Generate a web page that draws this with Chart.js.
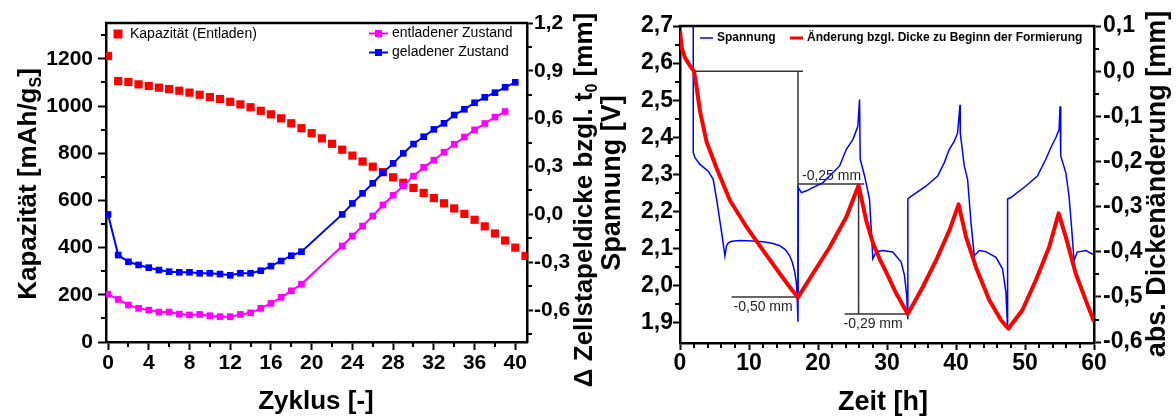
<!DOCTYPE html>
<html>
<head>
<meta charset="utf-8">
<script src="https://cdn.jsdelivr.net/npm/chart.js@4.4.1/dist/chart.umd.min.js"></script>
<style>
  html, body { margin: 0; padding: 0; background: #fff; }
  #wrap { position: relative; width: 1176px; height: 416px; overflow: hidden; }
  .panel { position: absolute; top: 0; height: 416px; }
  #left  { left: 0;     width: 604px; }
  #right { left: 596px; width: 580px; }
</style>
</head>
<body>
<div id="wrap">
  <div class="panel" id="left"><canvas id="cycChart" width="604" height="416"></canvas></div>
  <div class="panel" id="right"><canvas id="formChart" width="580" height="416"></canvas></div>
</div>
<script>
// ---------------------------------------------------------------------------
// Daten links: Zyklisierung
// ---------------------------------------------------------------------------
const capCycles = [0, 1, 2, 3, 4, 5, 6, 7, 8, 9, 10, 11, 12, 13, 14, 15, 16, 17, 18, 19, 20,
                   21, 22, 23, 24, 25, 26, 27, 28, 29, 30, 31, 32, 33, 34, 35, 36, 37, 38, 39, 40, 41];
const capValues = [1212, 1106, 1102, 1092, 1085, 1078, 1072, 1065, 1057, 1048, 1038, 1030, 1018, 1007,
                   995, 980, 965, 948, 927, 906, 885, 863, 840, 815, 790, 765, 743, 720, 698, 675, 653,
                   632, 610, 588, 566, 543, 518, 490, 460, 430, 400, 365];

const dischCycles = [0, 1, 2, 3, 4, 5, 6, 7, 8, 9, 10, 11, 12, 13, 14, 15, 16, 17, 18, 19,
                     23, 24, 25, 26, 27, 28, 29, 30, 31, 32, 33, 34, 35, 36, 37, 38, 39];
const dischThick = [-0.50, -0.533, -0.568, -0.589, -0.60, -0.612, -0.612, -0.625, -0.63, -0.627,
                    -0.635, -0.641, -0.641, -0.627, -0.617, -0.589, -0.558, -0.52, -0.479, -0.437,
                    -0.198, -0.135, -0.073, -0.01, 0.059, 0.12, 0.18, 0.24, 0.295, 0.34, 0.39,
                    0.44, 0.485, 0.53, 0.57, 0.61, 0.645];

const chargeCycles = [0, 1, 2, 3, 4, 5, 6, 7, 8, 9, 10, 11, 12, 13, 14, 15, 16, 17, 18, 19,
                      23, 24, 25, 26, 27, 28, 29, 30, 31, 32, 33, 34, 35, 36, 37, 38, 39, 40];
const chargeThick = [0.0, -0.255, -0.297, -0.317, -0.334, -0.349, -0.359, -0.363, -0.363, -0.369,
                     -0.369, -0.374, -0.382, -0.369, -0.369, -0.353, -0.324, -0.292, -0.259, -0.234,
                     0.0, 0.069, 0.132, 0.195, 0.261, 0.32, 0.383, 0.441, 0.487, 0.533, 0.571,
                     0.623, 0.659, 0.70, 0.734, 0.763, 0.797, 0.828];

const cycTicks   = [0, 4, 8, 12, 16, 20, 24, 28, 32, 36, 40];
const cycMinor   = [2, 6, 10, 14, 18, 22, 26, 30, 34, 38];
const capTicks   = [0, 200, 400, 600, 800, 1000, 1200];
const capMinor   = [100, 300, 500, 700, 900, 1100, 1300];
const stackTicks = [-0.6, -0.3, 0, 0.3, 0.6, 0.9, 1.2];
const stackMinor = [-0.75, -0.45, -0.15, 0.15, 0.45, 0.75, 1.05];

// ---------------------------------------------------------------------------
// Daten rechts: Formierung
// ---------------------------------------------------------------------------
const voltTime = [1.92, 1.92, 2.17, 2.89, 4.09, 4.81, 5.31, 6.03, 6.51, 6.75, 7.0, 7.5, 8.67, 10.5,
                  12.04, 13.5, 14.46, 15.3, 15.9, 16.3, 16.63, 16.85, 16.96, 17.1,
                  17.13, 17.59, 18.32, 20.72, 23.13, 24.1, 25.05, 25.78, 26.02,
                  26.12, 26.75, 27.47, 27.95, 28.44, 29.39, 30.84, 32.05, 32.53, 32.86, 33.01,
                  33.02, 33.5, 35.67, 37.34, 38.31, 39.03, 39.76, 40.23, 40.58,
                  40.62, 41.2, 41.68, 42.17, 42.65, 43.37, 44.34, 45.79, 46.74, 47.23, 47.46,
                  47.48, 47.95, 50.12, 51.8, 53.01, 53.74, 54.46, 54.94, 55.08,
                  55.18, 55.91, 56.38, 56.77, 57.11, 57.58, 58.8, 59.75, 60.0];
const voltValues = [2.75, 2.359, 2.345, 2.327, 2.309, 2.287, 2.233, 2.144, 2.081, 2.108, 2.116, 2.12, 2.122, 2.121,
                    2.119, 2.114, 2.108, 2.097, 2.081, 2.062, 2.037, 2.01, 1.983, 1.903,
                    2.265, 2.251, 2.256, 2.278, 2.323, 2.368, 2.394, 2.43, 2.502,
                    2.341, 2.296, 2.233, 2.073, 2.092, 2.095, 2.091, 2.064, 2.028, 1.974, 1.912,
                    2.234, 2.241, 2.269, 2.296, 2.332, 2.368, 2.39, 2.412, 2.488,
                    2.412, 2.323, 2.287, 2.171, 2.081, 2.095, 2.092, 2.077, 2.046, 1.983, 1.894,
                    2.234, 2.238, 2.269, 2.296, 2.341, 2.372, 2.399, 2.421, 2.484,
                    2.35, 2.305, 2.242, 2.153, 2.068, 2.091, 2.095, 2.086, 2.085];

const dickeTime = [0, 0.24, 0.72, 1.45, 2.02, 2.41, 2.89, 3.86, 5.31, 7.23, 9.64, 12.04, 14.46, 15.9, 17.1,
                   19.27, 21.69, 24.1, 25.88,
                   26.99, 27.95, 28.91, 29.88, 31.33, 33.01,
                   35.18, 37.11, 39.03, 40.38,
                   41.45, 42.89, 44.82, 46.51, 47.61,
                   49.63, 51.57, 53.49, 54.88,
                   55.91, 57.35, 58.8, 60.0];
const dickeValues = [0.089, 0.052, 0.03, 0.012, 0.0, -0.036, -0.088, -0.157, -0.215, -0.286, -0.345, -0.397, -0.448, -0.478, -0.501,
                     -0.448, -0.39, -0.323, -0.253,
                     -0.331, -0.38, -0.415, -0.445, -0.492, -0.538,
                     -0.478, -0.419, -0.353, -0.295,
                     -0.367, -0.434, -0.507, -0.551, -0.57,
                     -0.529, -0.463, -0.39, -0.315,
                     -0.367, -0.448, -0.507, -0.555];

// Hilfslinien [[t, mm], [t, mm]] und ihre Beschriftungen
const annoSegments = [
  [[1.92, 0.0],    [17.83, 0.0]],
  [[17.1, 0.0],    [17.1, -0.50]],
  [[7.47, -0.50],  [17.1, -0.50]],
  [[17.1, -0.25],  [26.7, -0.25]],
  [[25.88, -0.25], [25.88, -0.538]],
  [[23.85, -0.538], [33.0, -0.538]],
];
const annoTexts  = ["-0,50 mm", "-0,25 mm", "-0,29 mm"];
const annoAnchor = [[7.47, -0.50], [17.1, -0.25], [23.85, -0.538]];

const timeTicks  = [0, 10, 20, 30, 40, 50, 60];
const timeMinor  = [2, 4, 6, 8, 12, 14, 16, 18, 22, 24, 26, 28, 32, 34, 36, 38, 42, 44, 46, 48, 52, 54, 56, 58];
const voltTicks  = [1.9, 2.0, 2.1, 2.2, 2.3, 2.4, 2.5, 2.6, 2.7];
const voltMinor  = [1.95, 2.05, 2.15, 2.25, 2.35, 2.45, 2.55, 2.65];
const dickeTicks = [-0.6, -0.5, -0.4, -0.3, -0.2, -0.1, 0.0, 0.1];
const dickeMinor = [-0.55, -0.45, -0.35, -0.25, -0.15, -0.05, 0.05];

// ---------------------------------------------------------------------------
// Stil
// ---------------------------------------------------------------------------
const FONT = '"Liberation Sans", Arial, Helvetica, sans-serif';
const RED = "#ff0000", PINK = "#ff00ff", BLUE = "#0000ff", ANNO = "#333333";

const comma = digits => v => v.toFixed(digits).replace(".", ",").replace("-0,0", "0,0");
const pts = (xs, ys) => xs.map((x, i) => ({ x, y: ys[i] }));

function axis({ position, min, max, ticks, fmt, size, fit, tickLength, pad }) {
  return {
    type: "linear", position, min, max,
    afterBuildTicks: s => { s.ticks = ticks.map(value => ({ value })); },
    afterFit: position === "bottom" ? s => { s.height = fit; } : s => { s.width = fit; },
    border: { display: true, color: "#000", width: 2.5 },
    grid: { display: true, drawOnChartArea: false, drawTicks: true, tickLength, tickWidth: 2, tickColor: "#000" },
    ticks: {
      autoSkip: false, maxRotation: 0, padding: pad, color: "#000",
      font: { family: FONT, size, weight: "bold" },
      callback: fmt,
    },
  };
}

// ---------------------------------------------------------------------------
// Plugin: Rahmen oben, Nebenstriche, Achsentitel, Legenden, Beschriftungen
// ---------------------------------------------------------------------------
function richText(ctx, parts, x, y, rot, size) {
  ctx.save();
  ctx.translate(x, y);
  ctx.rotate(rot);
  ctx.textBaseline = "middle";
  ctx.fillStyle = "#000";
  const fontOf = sub => `bold ${sub ? Math.round(size * 0.62) : size}px ${FONT}`;
  let w = 0;
  for (const [t, sub] of parts) { ctx.font = fontOf(sub); w += ctx.measureText(t).width; }
  let cx = -w / 2;
  for (const [t, sub] of parts) {
    ctx.font = fontOf(sub);
    ctx.fillText(t, cx, sub ? size * 0.3 : 0);
    cx += ctx.measureText(t).width;
  }
  ctx.restore();
}

function drawMarker(ctx, m) {
  ctx.fillStyle = m.color;
  ctx.strokeStyle = m.color;
  if (m.x1 !== undefined) {
    ctx.lineWidth = m.width || 2;
    ctx.beginPath(); ctx.moveTo(m.x1, m.y); ctx.lineTo(m.x2, m.y); ctx.stroke();
  }
  if (m.size) {
    const cx = m.x1 !== undefined ? (m.x1 + m.x2) / 2 : m.x;
    ctx.fillRect(cx - m.size / 2, m.y - m.size / 2, m.size, m.size);
  }
  ctx.fillStyle = "#000";
  ctx.font = m.font;
  ctx.textBaseline = "middle";
  ctx.textAlign = "left";
  ctx.fillText(m.text, m.tx, m.y);
}

const decor = {
  id: "decor",
  afterDraw(chart, args, o) {
    const { ctx, chartArea: a } = chart;
    ctx.save();

    ctx.strokeStyle = "#000";
    ctx.lineWidth = 2.5;
    ctx.beginPath(); ctx.moveTo(a.left - 1, a.top); ctx.lineTo(a.right + 1, a.top); ctx.stroke();

    ctx.lineWidth = 2;
    for (const [id, values] of o.minor) {
      const s = chart.scales[id];
      for (const v of values) {
        const p = Math.round(s.getPixelForValue(v));
        ctx.beginPath();
        if (s.position === "bottom") { ctx.moveTo(p, a.bottom); ctx.lineTo(p, a.bottom + 5); }
        else if (s.position === "left") { ctx.moveTo(a.left, p); ctx.lineTo(a.left - 5, p); }
        else { ctx.moveTo(a.right, p); ctx.lineTo(a.right + 5, p); }
        ctx.stroke();
      }
    }

    for (const t of o.titles) richText(ctx, t.parts, t.x, t.y, t.rot, t.size);
    for (const m of o.legend) drawMarker(ctx, m);

    if (o.notes) {
      const sx = chart.scales.x, sy = chart.scales[o.notes.axis];
      ctx.fillStyle = "#222";
      ctx.font = `14px ${FONT}`;
      ctx.textAlign = "left";
      o.notes.texts.forEach((text, i) => {
        const [t, v] = o.notes.anchors[i];
        const [dx, dy, base] = o.notes.offsets[i];
        ctx.textBaseline = base;
        ctx.fillText(text, sx.getPixelForValue(t) + dx, sy.getPixelForValue(v) + dy);
      });
    }
    ctx.restore();
  },
};

// ---------------------------------------------------------------------------
// Linkes Diagramm
// ---------------------------------------------------------------------------
const squares = (color, r) => ({
  pointStyle: "rect", pointRadius: r, pointHoverRadius: r,
  pointBackgroundColor: color, pointBorderColor: color, pointBorderWidth: 0,
  borderColor: color, backgroundColor: color,
});

new Chart(document.getElementById("cycChart"), {
  type: "line",
  data: {
    datasets: [
      { label: "Kapazität (Entladen)", data: pts(capCycles, capValues), yAxisID: "yCap",
        showLine: false, order: 3, ...squares(RED, 5.8) },
      { label: "entladener Zustand", data: pts(dischCycles, dischThick), yAxisID: "yStack",
        borderWidth: 2, order: 2, ...squares(PINK, 4.7) },
      { label: "geladener Zustand", data: pts(chargeCycles, chargeThick), yAxisID: "yStack",
        borderWidth: 2, order: 1, ...squares(BLUE, 4.7) },
    ],
  },
  options: {
    responsive: false, animation: false,
    layout: { padding: { top: 23, right: 0, bottom: 0, left: 0 } },
    scales: {
      x:      axis({ position: "bottom", min: -0.2, max: 41.15, ticks: cycTicks, fmt: v => String(v), size: 21, fit: 74, tickLength: 8, pad: 1 }),
      yCap:   axis({ position: "left",   min: 0, max: 1352, ticks: capTicks, fmt: v => String(v), size: 21, fit: 106, tickLength: 8, pad: 5 }),
      yStack: axis({ position: "right",  min: -0.8, max: 1.2, ticks: stackTicks, fmt: comma(1), size: 21, fit: 77, tickLength: 6, pad: 1 }),
    },
    plugins: {
      legend: { display: false },
      tooltip: { enabled: false },
      decor: {
        minor: [["x", cycMinor], ["yCap", capMinor], ["yStack", stackMinor]],
        titles: [
          { parts: [["Kapazität [mAh/g", 0], ["S", 1], ["]", 0]], x: 29, y: 184, rot: -Math.PI / 2, size: 26 },
          { parts: [["Δ Zellstapeldicke bzgl. t", 0], ["0", 1], [" [mm]", 0]], x: 585, y: 200, rot: -Math.PI / 2, size: 26 },
          { parts: [["Zyklus [-]", 0]], x: 316, y: 402, rot: 0, size: 26 },
        ],
        legend: [
          { color: RED, x: 118, y: 34, size: 9, text: "Kapazität (Entladen)", tx: 130, font: `14px ${FONT}` },
          { color: PINK, x1: 369, x2: 388, y: 33.5, size: 7, width: 2, text: "entladener Zustand", tx: 392, font: `14px ${FONT}` },
          { color: BLUE, x1: 369, x2: 388, y: 52.5, size: 7, width: 2, text: "geladener Zustand", tx: 392, font: `14px ${FONT}` },
        ],
      },
    },
  },
  plugins: [decor],
});

// ---------------------------------------------------------------------------
// Rechtes Diagramm
// ---------------------------------------------------------------------------
const annoData = annoSegments.flatMap(([p, q]) => [
  { x: p[0], y: p[1] }, { x: q[0], y: q[1] }, { x: q[0], y: null },
]);

new Chart(document.getElementById("formChart"), {
  type: "line",
  data: {
    datasets: [
      { label: "Hilfslinien", data: annoData, yAxisID: "yT", borderColor: ANNO, borderWidth: 1.5,
        pointRadius: 0, spanGaps: false, order: 3 },
      { label: "Spannung", data: pts(voltTime, voltValues), yAxisID: "yV", borderColor: BLUE, borderWidth: 1.5,
        pointRadius: 0, order: 2 },
      { label: "Änderung bzgl. Dicke zu Beginn der Formierung", data: pts(dickeTime, dickeValues), yAxisID: "yT",
        borderColor: RED, borderWidth: 4, pointRadius: 0, borderJoinStyle: "round", order: 1 },
    ],
  },
  options: {
    responsive: false, animation: false,
    layout: { padding: { top: 26, right: 0, bottom: 0, left: 0 } },
    scales: {
      x:  axis({ position: "bottom", min: 0, max: 60, ticks: timeTicks, fmt: v => String(v), size: 23, fit: 73, tickLength: 7, pad: 0 }),
      yV: axis({ position: "left",   min: 1.846, max: 2.7, ticks: voltTicks, fmt: comma(1), size: 23, fit: 84, tickLength: 7, pad: 0 }),
      yT: axis({ position: "right",  min: -0.602, max: 0.1, ticks: dickeTicks, fmt: comma(1), size: 23, fit: 82, tickLength: 7, pad: 2 }),
    },
    plugins: {
      legend: { display: false },
      tooltip: { enabled: false },
      decor: {
        minor: [["x", timeMinor], ["yV", voltMinor], ["yT", dickeMinor]],
        titles: [
          { parts: [["Spannung [V]", 0]], x: 17, y: 183, rot: -Math.PI / 2, size: 27 },
          { parts: [["abs. Dickenänderung [mm]", 0]], x: 562, y: 184, rot: -Math.PI / 2, size: 27 },
          { parts: [["Zeit [h]", 0]], x: 287, y: 403, rot: 0, size: 27 },
        ],
        legend: [
          { color: BLUE, x1: 104, x2: 117, y: 38, width: 1.5, text: "Spannung", tx: 121, font: `bold 12px ${FONT}` },
          { color: RED, x1: 194, x2: 207, y: 38, width: 3, text: "Änderung bzgl. Dicke zu Beginn der Formierung", tx: 211, font: `bold 12px ${FONT}` },
        ],
        notes: {
          axis: "yT",
          texts: annoTexts,
          anchors: annoAnchor,
          offsets: [[2, 3, "top"], [4, -1, "bottom"], [-1, 3, "top"]],
        },
      },
    },
  },
  plugins: [decor],
});
</script>
</body>
</html>
